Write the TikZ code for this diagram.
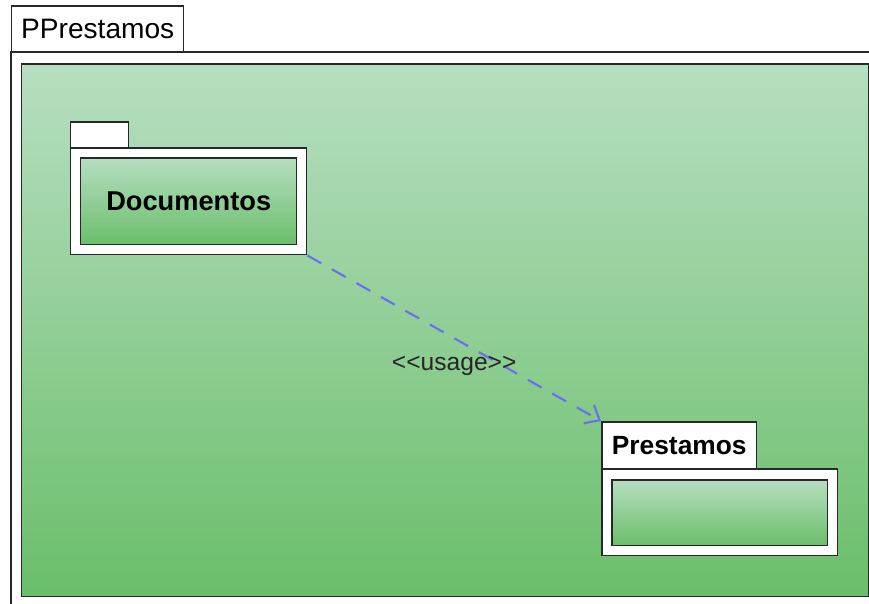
\documentclass[tikz,border=0pt]{standalone}
\usepackage{fontspec}
\setmainfont{Liberation Sans}
\usetikzlibrary{arrows.meta}

\definecolor{lightgreen}{RGB}{183,222,193}
\definecolor{darkgreen}{RGB}{106,190,106}
\definecolor{usageblue}{RGB}{104,112,240}
\definecolor{framegray}{RGB}{40,40,40}

\tikzset{
 box/.style={draw=framegray, line width=0.85pt, fill=white, anchor=north west, inner sep=0pt},
 greenbox/.style={box, top color=lightgreen, bottom color=darkgreen},
 usage/.style={draw=usageblue, line width=1.2pt, dash pattern=on 9pt off 7pt, -{Straight Barb[length=7pt,width=12pt]}}
}

\begin{document}
\begin{tikzpicture}[x=0.02cm, y=-0.02cm]
 \useasboundingbox (0,0) rectangle (869,603);
 \clip (0,0) rectangle (869,603);
 % outer package
 \node[box, minimum width=3.44cm, minimum height=0.94cm, font=\fontsize{16}{18}\selectfont] (outerTab) at (11,5) {PPrestamos};
 \draw[framegray, line width=0.85pt, fill=white] (11,52) rectangle (900,640);
 \node[greenbox, minimum width=16.94cm, minimum height=10.66cm] (area) at (21,63) {};
 % Documentos
 \node[box, minimum width=1.16cm, minimum height=0.52cm] (docTab) at (70,121) {};
 \node[box, minimum width=4.72cm, minimum height=2.14cm] (docBody) at (70,147) {};
 \node[greenbox, minimum width=4.32cm, minimum height=1.74cm, font=\fontsize{15.5}{18}\selectfont\bfseries] (docInner) at (80,157) {Documentos};
 % Prestamos
 \node[box, minimum width=3.1cm, minimum height=0.94cm, font=\fontsize{15}{18}\selectfont\bfseries] (presTab) at (601,421) {Prestamos};
 \node[box, minimum width=4.72cm, minimum height=1.74cm] (presBody) at (601,468) {};
 \node[greenbox, minimum width=4.32cm, minimum height=1.32cm] (presInner) at (611,479) {};
 % dependency
 \draw[usage] (docBody.south east) -- (presTab.north west)
  node[midway, below=0.22cm, text=black!85, font=\fontsize{14}{16}\selectfont] (usageLabel) {<{}<usage>{}>};
\end{tikzpicture}
\end{document}
